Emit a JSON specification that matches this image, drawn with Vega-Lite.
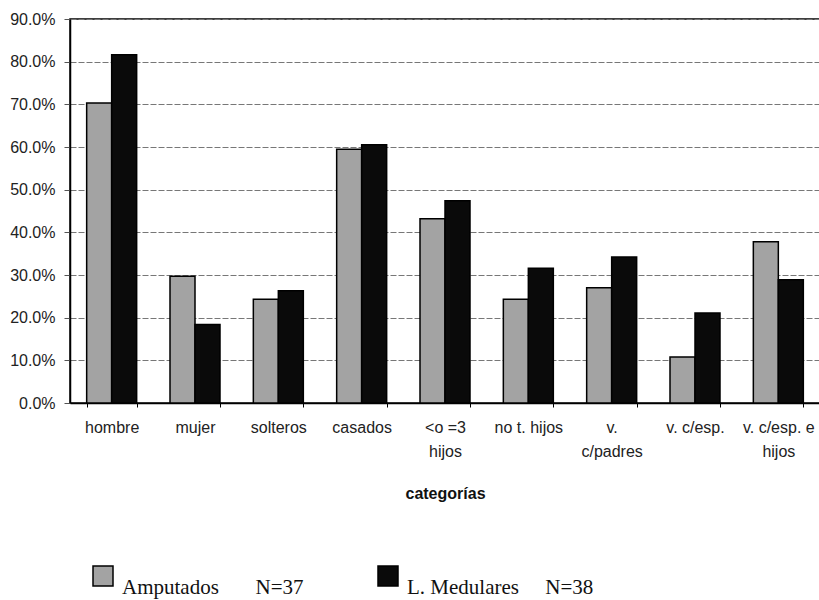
{
  "$schema": "https://vega.github.io/schema/vega-lite/v6.json",
  "width": 750,
  "height": 384,
  "autosize": {"type": "none"},
  "padding": {"left": 70, "top": 19, "right": 0, "bottom": 197},
  "background": "white",
  "config": {
    "view": {"stroke": "black", "strokeWidth": 1.5},
    "font": "Liberation Sans"
  },
  "data": {
    "values": [
      {"categoria": "hombre", "grupo": "Amputados", "valor": 0.703},
      {"categoria": "hombre", "grupo": "L. Medulares", "valor": 0.816},
      {"categoria": "mujer", "grupo": "Amputados", "valor": 0.297},
      {"categoria": "mujer", "grupo": "L. Medulares", "valor": 0.184},
      {"categoria": "solteros", "grupo": "Amputados", "valor": 0.243},
      {"categoria": "solteros", "grupo": "L. Medulares", "valor": 0.263},
      {"categoria": "casados", "grupo": "Amputados", "valor": 0.595},
      {"categoria": "casados", "grupo": "L. Medulares", "valor": 0.605},
      {"categoria": "<o =3\nhijos", "grupo": "Amputados", "valor": 0.432},
      {"categoria": "<o =3\nhijos", "grupo": "L. Medulares", "valor": 0.474},
      {"categoria": "no t. hijos", "grupo": "Amputados", "valor": 0.243},
      {"categoria": "no t. hijos", "grupo": "L. Medulares", "valor": 0.316},
      {"categoria": "v.\nc/padres", "grupo": "Amputados", "valor": 0.270},
      {"categoria": "v.\nc/padres", "grupo": "L. Medulares", "valor": 0.342},
      {"categoria": "v. c/esp.", "grupo": "Amputados", "valor": 0.108},
      {"categoria": "v. c/esp.", "grupo": "L. Medulares", "valor": 0.211},
      {"categoria": "v. c/esp. e\nhijos", "grupo": "Amputados", "valor": 0.378},
      {"categoria": "v. c/esp. e\nhijos", "grupo": "L. Medulares", "valor": 0.289}
    ]
  },
  "mark": {"type": "bar", "stroke": "black", "strokeWidth": 1.5},
  "encoding": {
    "x": {
      "field": "categoria",
      "type": "nominal",
      "sort": null,
      "scale": {"paddingInner": 0.4, "paddingOuter": 0.2},
      "axis": {
        "title": "categorías",
        "titleFont": "Liberation Sans",
        "titleFontSize": 16,
        "titleFontWeight": "bold",
        "titleColor": "#111",
        "titlePadding": 26,
        "labelAngle": 0,
        "labelExpr": "split(datum.label, '\\n')",
        "labelFont": "Liberation Sans",
        "labelFontSize": 16,
        "labelColor": "#222",
        "labelLineHeight": 24,
        "labelPadding": 12,
        "labelBaseline": "top",
        "tickBand": "extent",
        "tickSize": 4,
        "tickColor": "black",
        "domainColor": "black",
        "domainWidth": 1.5,
        "grid": false
      }
    },
    "xOffset": {"field": "grupo", "type": "nominal", "sort": ["Amputados", "L. Medulares"], "scale": {"paddingInner": 0, "paddingOuter": 0}},
    "y": {
      "field": "valor",
      "type": "quantitative",
      "scale": {"domain": [0, 0.9], "nice": false},
      "axis": {
        "title": null,
        "values": [0, 0.1, 0.2, 0.3, 0.4, 0.5, 0.6, 0.7, 0.8, 0.9],
        "format": ".1%",
        "labelFont": "Liberation Sans",
        "labelFontSize": 16,
        "labelColor": "#222",
        "labelPadding": 9,
        "tickSize": 6,
        "tickColor": "#555",
        "domainColor": "black",
        "domainWidth": 1.5,
        "grid": true,
        "gridColor": "#777",
        "gridDash": [6, 2],
        "gridWidth": 1
      }
    },
    "fill": {
      "field": "grupo",
      "type": "nominal",
      "sort": ["Amputados", "L. Medulares"],
      "scale": {"domain": ["Amputados", "L. Medulares"], "range": ["#a3a3a3", "#0a0a0a"]},
      "legend": {
        "title": null,
        "orient": "none",
        "legendX": 22,
        "legendY": 546,
        "direction": "horizontal",
        "padding": 0,
        "columnPadding": 71,
        "symbolType": "square",
        "symbolSize": 400,
        "symbolStrokeColor": "black",
        "symbolStrokeWidth": 1.5,
        "symbolOpacity": 1,
        "labelFont": "Liberation Serif",
        "labelFontSize": 21,
        "labelColor": "#111",
        "labelOffset": 8,
        "labelBaseline": "line-top",
        "labelLineHeight": 30,
        "labelLimit": 400,
        "labelExpr": "datum.label == 'Amputados' ? 'Amputados\u00a0\u00a0\u00a0\u00a0\u00a0\u00a0\u00a0N=37' : 'L. Medulares\u00a0\u00a0\u00a0\u00a0\u00a0N=38'"
      }
    }
  }
}
